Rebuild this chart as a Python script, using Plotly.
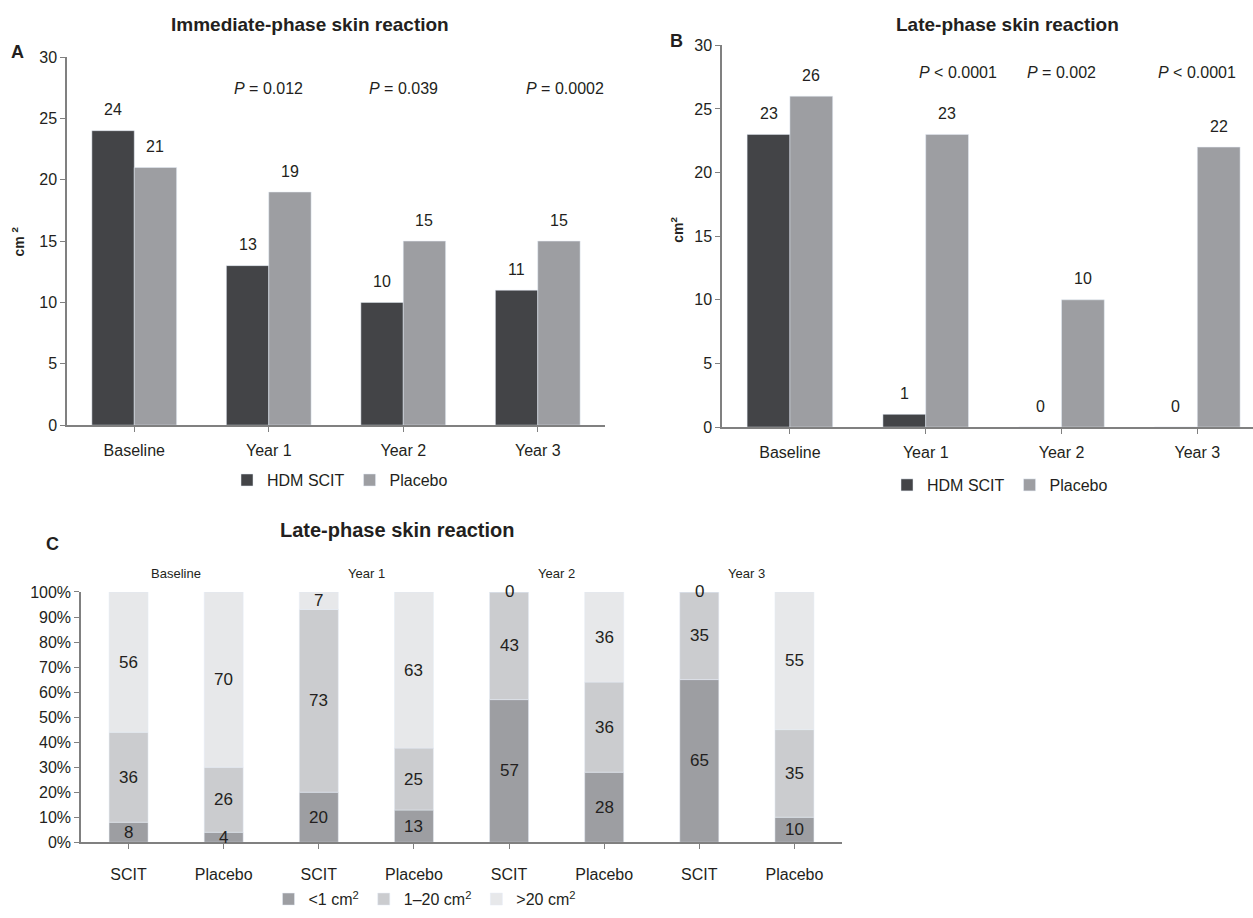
import numpy as np
import plotly.graph_objects as go

# ---------------- data ----------------
years = ["Baseline", "Year 1", "Year 2", "Year 3"]
imm_scit = [24, 13, 10, 11]
imm_placebo = [21, 19, 15, 15]
imm_p = ["<i>P</i> = 0.012", "<i>P</i> = 0.039", "<i>P</i> = 0.0002"]

late_scit = [23, 1, 0, 0]
late_placebo = [26, 23, 10, 22]
late_p = ["<i>P</i> < 0.0001", "<i>P</i> = 0.002", "<i>P</i> < 0.0001"]

c_groups = ["Baseline", "Year 1", "Year 2", "Year 3"]
c_cats = ["SCIT", "Placebo", "SCIT", "Placebo", "SCIT", "Placebo", "SCIT", "Placebo"]
c_lt1 = [8, 4, 20, 13, 57, 28, 65, 10]
c_1to20 = [36, 26, 73, 25, 43, 36, 35, 35]
c_gt20 = [56, 70, 7, 63, 0, 36, 0, 55]
c_names = ["&lt;1 cm<sup>2</sup>", "1–20 cm<sup>2</sup>", "&gt;20 cm<sup>2</sup>"]

# ---------------- style ----------------
W, H = 1253, 918
FONT = "Liberation Sans, Arial, sans-serif"
TXT = "#231f20"
DARK = "#434447"
MID = "#9d9ea2"
LIGHT = "#cbcccf"
LIGHTEST = "#e7e8ea"
AX = "#808080"

def px(x):
    return x / W

def py(y):
    return 1 - y / H

fig = go.Figure()

xa = np.arange(len(years))
GAP_AB = 0.37
bw = (1 - GAP_AB) / 2

# Panel A
fig.add_trace(go.Bar(x=xa, y=imm_scit, name="HDM SCIT", marker_color=DARK,
                     xaxis="x", yaxis="y", legend="legend", offset=-bw, width=bw))
fig.add_trace(go.Bar(x=xa, y=imm_placebo, name="Placebo", marker_color=MID,
                     xaxis="x", yaxis="y", legend="legend", offset=0, width=bw))
# Panel B
fig.add_trace(go.Bar(x=xa, y=late_scit, name="HDM SCIT", marker_color=DARK,
                     xaxis="x2", yaxis="y2", legend="legend2", offset=-bw, width=bw))
fig.add_trace(go.Bar(x=xa, y=late_placebo, name="Placebo", marker_color=MID,
                     xaxis="x2", yaxis="y2", legend="legend2", offset=0, width=bw))

# Panel C (stacked to 100 %, bases computed from the data)
xc = np.arange(len(c_cats))
stack = np.vstack([c_lt1, c_1to20, c_gt20]).astype(float)
tot = stack.sum(axis=0)
norm = stack / tot * 100
cum = np.cumsum(norm, axis=0)
bases = cum - norm
for s, (col, nm) in enumerate(zip([MID, LIGHT, LIGHTEST], c_names)):
    fig.add_trace(go.Bar(x=xc, y=norm[s], base=bases[s], name=nm, marker_color=col, width=0.41,
                         xaxis="x3", yaxis="y3", legend="legend3"))

annotations = []

def ann(**kw):
    d = dict(showarrow=False, xanchor="center", yanchor="middle")
    d.update(kw)
    annotations.append(d)

# value labels above grouped bars (A, B)
for xref, yref, s1, s2 in [("x", "y", imm_scit, imm_placebo), ("x2", "y2", late_scit, late_placebo)]:
    for i in range(len(years)):
        for off, v in [(-bw / 2, s1[i]), (bw / 2, s2[i])]:
            ann(x=i + off, y=v, xref=xref, yref=yref, text=str(v), yshift=21,
                font=dict(size=16, color=TXT))

# P values
for i, (t, dx) in enumerate(zip(imm_p, [0, 0, 0.2])):
    ann(x=i + 1 + dx, y=27.4, xref="x", yref="y", text=t, font=dict(size=16, color=TXT))
for i, (t, dx) in enumerate(zip(late_p, [0.24, 0, 0])):
    ann(x=i + 1 + dx, y=27.9, xref="x2", yref="y2", text=t, font=dict(size=16, color=TXT))

# Panel C segment labels (centered in segments)
for s in range(3):
    for i in range(len(c_cats)):
        v = stack[s, i]
        yc = 100 if v == 0 else cum[s, i] - norm[s, i] / 2
        ann(x=i, y=yc, xref="x3", yref="y3", text=str(int(v)), font=dict(size=17, color=TXT))

# group labels for C
for g, name in enumerate(c_groups):
    ann(x=2 * g + 0.5, y=py(576), xref="x3", yref="paper", text=name, font=dict(size=13, color=TXT))

# titles and panel letters
ann(x=px(310), y=py(17), xref="paper", yref="paper", text="<b>Immediate-phase skin reaction</b>",
    font=dict(size=19, color=TXT))
ann(x=px(1007), y=py(17), xref="paper", yref="paper", text="<b>Late-phase skin reaction</b>",
    font=dict(size=19, color=TXT))
ann(x=px(397), y=py(532), xref="paper", yref="paper", text="<b>Late-phase skin reaction</b>",
    font=dict(size=20, color=TXT))
ann(x=px(17), y=py(45), xref="paper", yref="paper", text="<b>A</b>", font=dict(size=18, color=TXT))
ann(x=px(676), y=py(34), xref="paper", yref="paper", text="<b>B</b>", font=dict(size=18, color=TXT))
ann(x=px(52), y=py(546), xref="paper", yref="paper", text="<b>C</b>", font=dict(size=18, color=TXT))
ann(x=px(18), y=py(238), xref="paper", yref="paper", text="<b>cm <sup>2</sup></b>",
    textangle=-90, font=dict(size=14, color=TXT))
ann(x=px(677), y=py(226), xref="paper", yref="paper", text="<b>cm<sup>2</sup></b>",
    textangle=-90, font=dict(size=14, color=TXT))

axis_common = dict(showgrid=False, zeroline=False, showline=True, linecolor=AX, linewidth=1.5,
                   ticks="outside", tickcolor=AX, ticklen=5, tickwidth=1,
                   tickfont=dict(size=16, color=TXT, family=FONT))

legend_common = dict(orientation="h", xanchor="center", yanchor="middle",
                     font=dict(size=16, color=TXT, family=FONT), bgcolor="rgba(0,0,0,0)",
                     itemwidth=30, tracegroupgap=0, itemclick=False, itemdoubleclick=False)

fig.update_layout(
    width=W, height=H, autosize=False,
    margin=dict(l=0, r=0, t=0, b=0),
    paper_bgcolor="white", plot_bgcolor="white",
    font=dict(family=FONT, color=TXT),
    barmode="overlay",
    showlegend=True,
    annotations=annotations,
    xaxis=dict(axis_common, domain=[px(67), px(605)], range=[-0.5, 3.5],
               tickvals=list(xa), ticktext=years, tickson="boundaries", anchor="y",
               ticklabelstandoff=5),
    yaxis=dict(axis_common, domain=[py(425), py(50)], range=[0, 30], dtick=5, anchor="x"),
    xaxis2=dict(axis_common, domain=[px(722), 1.0], range=[-0.5, 3.41],
                tickvals=list(xa), ticktext=years, tickson="boundaries", anchor="y2",
                ticklabelstandoff=5),
    yaxis2=dict(axis_common, domain=[py(427), py(38)], range=[0, 30], dtick=5, anchor="x2"),
    xaxis3=dict(axis_common, domain=[px(81), px(842)], range=[-0.5, 7.5],
                tickvals=list(xc), ticktext=c_cats, tickson="boundaries", anchor="y3",
                ticklabelstandoff=12),
    yaxis3=dict(axis_common, domain=[py(850), py(595)], range=[0, 100], dtick=10,
                ticksuffix="%", anchor="x3"),
    legend=dict(legend_common, x=px(340), y=py(481)),
    legend2=dict(legend_common, x=px(1000), y=py(486)),
    legend3=dict(legend_common, x=px(425), y=py(908)),
)

fig.write_html("out.html", config={"displayModeBar": False},
               post_script="document.body.style.margin='0';")
